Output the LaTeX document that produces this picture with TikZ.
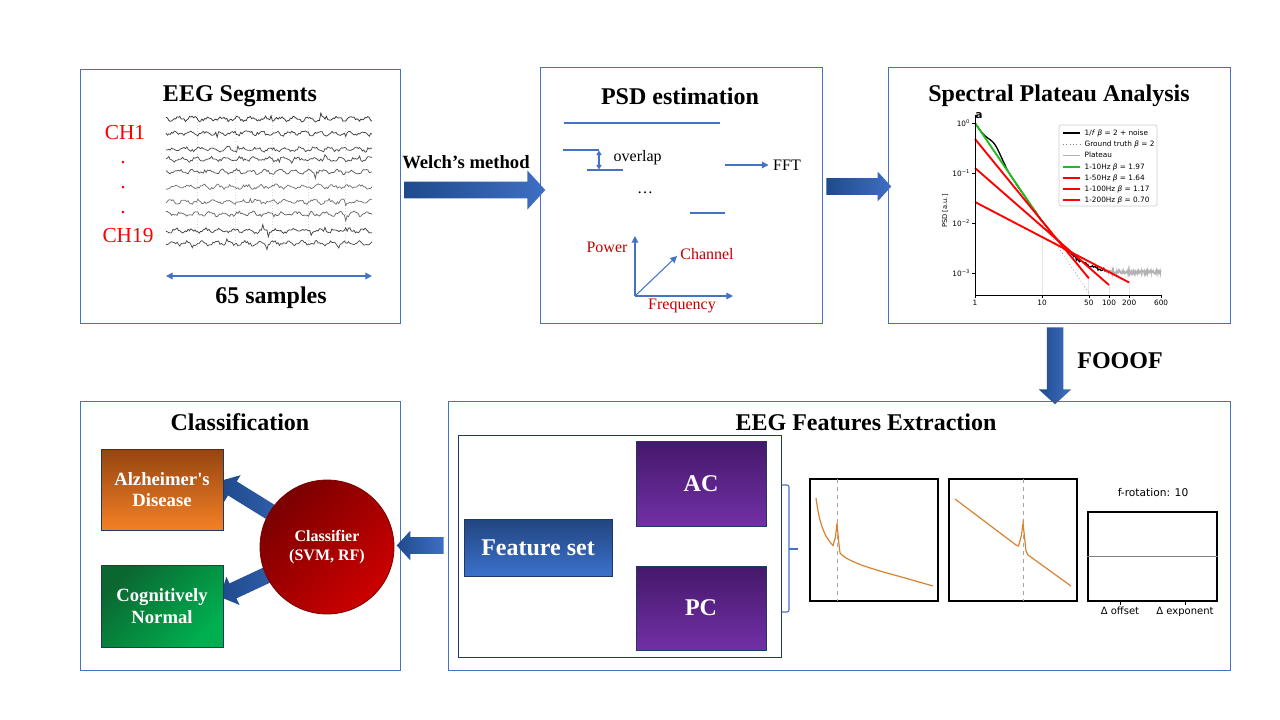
\documentclass[tikz,border=0pt]{standalone}
\usepackage{fontspec}
\setmainfont{Liberation Serif}
\newfontfamily\plotfont{DejaVu Sans}
\usetikzlibrary{positioning,calc,shapes.arrows,arrows.meta,backgrounds}

\definecolor{panelblue}{HTML}{4472C4}
\definecolor{navy}{HTML}{1F3864}
\definecolor{arrowdark}{HTML}{1F4A8C}
\definecolor{arrowlight}{HTML}{3F6FC4}
\definecolor{chred}{HTML}{FF0000}
\definecolor{axred}{HTML}{C00000}
\definecolor{adtop}{HTML}{944510}
\definecolor{adbot}{HTML}{F58025}
\definecolor{cntop}{HTML}{0B6630}
\definecolor{cnbot}{HTML}{00B050}
\definecolor{fstop}{HTML}{22457F}
\definecolor{fsbot}{HTML}{3B71CC}
\definecolor{pctop}{HTML}{45186A}
\definecolor{pcbot}{HTML}{7230A6}
\definecolor{clsdark}{HTML}{7A0000}
\definecolor{clslight}{HTML}{CC0000}
\definecolor{psdorange}{HTML}{D98230}
\definecolor{fitgreen}{HTML}{22BB22}

% block arrow between two named points
\newcommand\fatlink[3][]{%
  \path let \p1=($(#3)-(#2)$), \n1={atan2(\y1,\x1)}, \n2={veclen(\x1,\y1)} in
    node[fatarrow, #1, rotate=\n1, minimum height=\n2] at ($(#2)!0.5!(#3)$) {};}

\begin{document}
\begin{tikzpicture}[
    x=0.75pt, y=-0.75pt,
    panel/.style={draw=panelblue, line width=0.75pt, inner sep=0pt},
    title/.style={font=\fontsize{18}{21}\selectfont\bfseries},
    fatarrow/.style={single arrow, draw=none, inner xsep=0pt, inner ysep=6pt,
        single arrow head extend=5pt, single arrow tip angle=95,
        left color=arrowdark, right color=arrowlight},
    bluline/.style={draw=panelblue, line width=0.8pt},
    thinarrow/.style={bluline, -{Triangle[length=5pt,width=5pt]}},
    twoway/.style={bluline, {Triangle[length=5pt,width=5pt]}-{Triangle[length=5pt,width=5pt]}},
    outcome/.style={draw=navy, line width=0.6pt, minimum width=91.5pt, align=center,
        text=white, font=\fontsize{14}{16}\selectfont\bfseries},
    featbox/.style={draw=navy, line width=0.6pt, text=white,
        font=\fontsize{18}{20}\selectfont\bfseries, shading angle=45},
    plotbox/.style={draw=black, line width=0.8pt, minimum width=96pt, minimum height=91.5pt},
    psdcurve/.style={psdorange, line width=0.9pt},
    fitline/.style={line width=1.4pt},
    plotlbl/.style={font=\plotfont\fontsize{5.5}{6.5}\selectfont, inner sep=1pt}
    ]
    \useasboundingbox (0,0) rectangle (1280,720);

    % panels
    \node[panel, minimum width=240pt, minimum height=189.75pt] (eeg) at (240,196.5) {};
    \node[panel, minimum width=211.5pt, minimum height=191.25pt] (psd) at (681,195.5) {};
    \node[panel, minimum width=256.5pt, minimum height=191.25pt] (spa) at (1059,195.5) {};
    \node[panel, minimum width=240pt, minimum height=201.75pt] (cls) at (240,535.5) {};
    \node[panel, minimum width=586.5pt, minimum height=201.75pt] (feat) at (839,535.5) {};

    \node[title] at (240,96) {EEG Segments};
    \node[title] at (680,96) {PSD estimation};
    \node[title] at (1059,96) {Spectral Plateau Analysis};
    \node[title] at (240,422) {Classification};
    \node[title] at (866,422) {EEG Features Extraction};

    % arrows between panels
    \coordinate (w1) at (eeg.east |- 0,190);
    \coordinate (w2) at ([xshift=1.5pt]psd.west |- 0,190);
    \fatlink[single arrow head extend=8.5pt]{w1}{w2}
    \node[font=\fontsize{14}{16}\selectfont\bfseries] at (466,162) {Welch’s method};
    \coordinate (f1) at (psd.east |- 0,186.5);
    \coordinate (f2) at (spa.west |- 0,186.5);
    \fatlink{f1}{f2}
    \coordinate (o1) at (spa.south -| 1055,0);
    \coordinate (o2) at (feat.north -| 1055,0);
    \fatlink[single arrow head extend=6pt]{o1}{o2}
    \node[title] at (1120,361) {FOOOF};
    \coordinate (l1) at (feat.west |- 0,545.5);
    \coordinate (l2) at (cls.east |- 0,545.5);
    \fatlink{l1}{l2}

    % EEG segments
    \foreach \gx in {197,235,272,308,345}
        \draw[gray!30, dotted, line width=0.4pt] (\gx,112) -- (\gx,248);
    \pgfmathsetseed{11}
    \foreach \ty/\tc in {119/black!80, 133.3/black!75, 149.3/black!70, 159.3/black!70,
            171.7/black!65, 186.7/black!55, 201.7/black!55, 214/black!60,
            230.7/black!75, 243.3/black!70}
        \draw[\tc, line width=0.55pt] plot[domain=166:372, samples=150]
            (\x, {\ty + 1.4*rand + 1.6*sin(25*\x + 7*\ty) + (rnd>0.95 ? 5*rand : 0)});
    \node[text=chred, font=\fontsize{16}{18}\selectfont] (ch1) at (125,133) {CH1};
    \foreach \dy in {163,188,213}
        \node[text=chred, font=\fontsize{16}{18}\selectfont] at (123,\dy) {.};
    \node[text=chred, font=\fontsize{16}{18}\selectfont] (ch19) at (128,236) {CH19};
    \coordinate (s1) at (166,276);
    \coordinate (s2) at (372,276);
    \draw[twoway, line width=1pt] (s1) -- (s2);
    \node[title] at (271,298) {65 samples};

    % PSD estimation
    \draw[bluline] (564,123) -- (720,123);
    \draw[bluline] (563,150) -- (599,150);
    \draw[bluline] (587,170) -- (623,170);
    \draw[twoway, {Triangle[length=3.5pt,width=4pt]}-{Triangle[length=3.5pt,width=4pt]}] (599,150.5) -- (599,169.5);
    \node[font=\fontsize{12}{14}\selectfont, anchor=west] (ovl) at (609,158) {overlap};
    \coordinate (t1) at (725,165);
    \node[font=\fontsize{12}{14}\selectfont] (fft) at (787,165) {FFT};
    \draw[thinarrow] (t1) -- (fft.west);
    \node[font=\fontsize{12}{14}\selectfont] at (645,193) {\dots};
    \draw[bluline] (690,213) -- (725,213);
    \coordinate (ax0) at (635,296);
    \node[text=axred, font=\fontsize{12}{14}\selectfont] (pow) at (607,247) {Power};
    \node[text=axred, font=\fontsize{12}{14}\selectfont] (chan) at (707,254) {Channel};
    \node[text=axred, font=\fontsize{12}{14}\selectfont] (freq) at (682,306) {Frequency};
    \draw[thinarrow] (ax0) -- (635,236);
    \draw[thinarrow] (ax0) -- (733,296);
    \draw[thinarrow] (ax0) -- (677,256);

    % spectral plateau plot
    \begin{scope}[shift={(975,123)}, x=50.25pt, y=37.5pt]
        \foreach \u/\v in {1/-2, 1.699/-3.106, 2/-3.24, 2.301/-3.19}
            \draw[gray!20, line width=0.6pt] (\u,-3.44) -- (\u,\v);
        \draw[black, line width=1pt] plot[domain=0:1.95, samples=140]
            (\x, {log10(10^(-2*\x) + 0.001) + 0.16*exp(-(((\x-0.3)/0.13)^2)) + (\x>1.25 ? 0.03*rand : 0)});
        \draw[gray!60, line width=0.9pt] plot[domain=1.95:2.778, samples=160]
            (\x, {-2.98 + 0.035*rand});
        \draw[gray, dotted, line width=0.5pt] (0,0) -- (1.72,-3.44);
        \draw[fitgreen, fitline] (0,0) -- (1,-1.97);
        \draw[red, fitline] (0,-0.32) -- (1.699,-3.106);
        \draw[red, fitline] (0,-0.9) -- (2,-3.24);
        \draw[red, fitline] (0,-1.58) -- (2.301,-3.19);
        % axes
        \draw[black, line width=0.6pt] (0,0.16) -- (0,-3.44) -- (2.778,-3.44);
        \foreach \v/\lbl in {0/0, -1/−1, -2/−2, -3/−3}
            \draw[line width=0.5pt] (0,\v) -- ++(-2.5pt,0)
                node[left, plotlbl] {10\textsuperscript{\lbl}};
        \foreach \u/\lbl in {0/1, 1/10, 1.699/50, 2/100, 2.301/200, 2.778/600}
            \draw[line width=0.5pt] (\u,-3.44) -- ++(0,-2.5pt)
                node[below, plotlbl] {\lbl};
    \end{scope}
    \node[plotlbl, rotate=90, font=\plotfont\fontsize{5}{6}\selectfont] at (945,211) {PSD [a.u.]};
    \node[plotlbl, font=\plotfont\bfseries\fontsize{8}{9}\selectfont] at (979,116) {a};
    % legend
    \draw[gray!40, fill=white, rounded corners=1.5pt, line width=0.5pt] (1059,125) rectangle (1157,206);
    \draw[black, line width=1.1pt] (1063,133) -- (1080,133);
    \draw[gray, dotted, line width=0.5pt] (1063,144) -- (1080,144);
    \draw[gray!60, line width=0.6pt] (1063,155) -- (1080,155);
    \draw[fitgreen, fitline] (1063,167) -- (1080,167);
    \draw[red, fitline] (1063,178) -- (1080,178);
    \draw[red, fitline] (1063,189) -- (1080,189);
    \draw[red, fitline] (1063,200) -- (1080,200);
    \foreach \ly/\lbl in {133/{1/\textit{f} \textit{β} = 2 + noise},
            144/{Ground truth \textit{β} = 2}, 155/{Plateau},
            167/{1-10Hz \textit{β} = 1.97}, 178/{1-50Hz \textit{β} = 1.64},
            189/{1-100Hz \textit{β} = 1.17}, 200/{1-200Hz \textit{β} = 0.70}}
        \node[plotlbl, anchor=west] at (1083,\ly) {\lbl};

    % classification
    \node[outcome, minimum height=60.75pt, top color=adtop, bottom color=adbot] (ad) at (162,489.5)
        {Alzheimer\textquotesingle s\\Disease};
    \node[outcome, minimum height=61.5pt, top color=cntop, bottom color=cnbot, shading angle=45] (cn) at (162,606)
        {Cognitively\\Normal};
    \node[circle, draw=clsdark, line width=0.6pt, minimum size=100.5pt, top color=clsdark,
        bottom color=clslight, shading angle=45, text=white, align=center,
        font=\fontsize{12}{14}\selectfont\bfseries] (clf) at (327,547) {Classifier\\(SVM, RF)};
    \coordinate (adtip) at ([yshift=5pt]ad.east);
    \coordinate (cntip) at ([yshift=8pt]cn.east);
    \begin{pgfonlayer}{background}
        \fatlink[single arrow head extend=5.5pt]{clf}{adtip}
        \fatlink[single arrow head extend=5.5pt]{clf}{cntip}
    \end{pgfonlayer}

    % feature extraction
    \node[draw=navy, line width=0.75pt, minimum width=242.25pt, minimum height=166.5pt] (inner) at (619.5,546) {};
    \node[featbox, minimum width=111pt, minimum height=42.75pt, top color=fstop, bottom color=fsbot] (fset) at (538,547.5) {Feature set};
    \node[featbox, minimum width=97.5pt, minimum height=63.75pt, top color=pctop, bottom color=pcbot] (ac) at (701,483.5) {AC};
    \node[featbox, minimum width=97.5pt, minimum height=63pt, top color=pctop, bottom color=pcbot] (pc) at (701,608) {PC};
    \draw[bluline, rounded corners=1.5pt] (inner.east |- 0,485) -- (789,485) -- (789,612) -- (inner.east |- 0,612);
    \draw[bluline] (789,549) -- (798,549);

    \node[plotbox] (p1) at (874,540) {};
    \draw[gray!70, dashed, line width=0.7pt] (837,479) -- (837,601);
    \draw[psdcurve] plot[smooth] coordinates {(816,498) (817.5,508) (819.5,518) (822.5,528) (826,536) (830,542) (833,545.5)}
        -- (835.5,537) -- (837,523) -- (838.5,540) -- (840,553)
        -- plot[smooth] coordinates {(840,553) (846,558) (860,564.5) (880,571) (905,578) (933,586)};

    \node[plotbox] (p2) at (1013,540) {};
    \draw[gray!70, dashed, line width=0.7pt] (1023,479) -- (1023,601);
    \draw[psdcurve] (955,499) -- (1016,545) -- (1018.5,546) -- (1021.5,535) -- (1023,523)
        -- (1024.5,537) -- (1026,551) -- (1028,555) -- (1071,586);

    \node[plotbox, minimum width=96.75pt, minimum height=66.75pt] (p3) at (1152.5,556.5) {};
    \draw[gray, line width=1pt] (p3.west) -- (p3.east);
    \node[plotlbl, font=\plotfont\fontsize{8}{9}\selectfont] at (1153,493) {f-rotation: 10};
    \foreach \tx/\lbl in {1120/Δ offset, 1185/Δ exponent}
        \draw[line width=0.7pt] (\tx,601) -- (\tx,605)
            node[below, plotlbl, font=\plotfont\fontsize{7.5}{8.5}\selectfont] {\lbl};
\end{tikzpicture}
\end{document}
